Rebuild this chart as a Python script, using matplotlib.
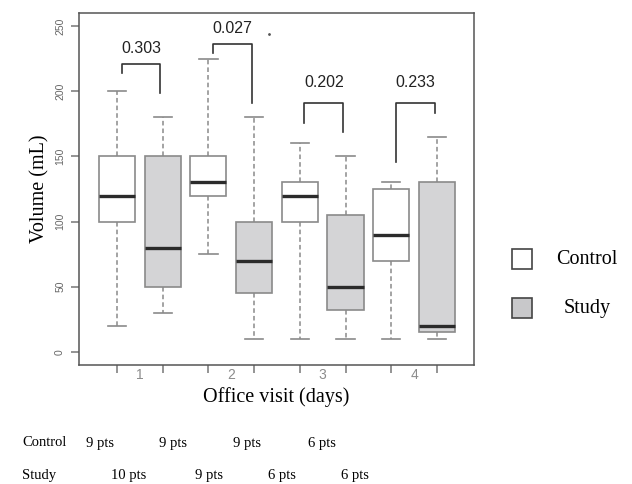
import numpy as np
import matplotlib.pyplot as plt
from matplotlib.patches import Rectangle

# box statistics (whislo, q1, med, q3, whishi)
visits = ['1', '2', '3', '4']
control_stats = [
    (20, 100, 120, 150, 200),
    (75, 120, 130, 150, 225),
    (10, 100, 120, 130, 160),
    (10, 70, 90, 125, 130),
]
study_stats = [
    (30, 50, 80, 150, 180),
    (10, 45, 70, 100, 180),
    (10, 32, 50, 105, 150),
    (10, 15, 20, 130, 165),
]
p_values = ['0.303', '0.027', '0.202', '0.233']
# bracket: (top, left leg bottom, right leg bottom)
brackets = [(221, 214, 199), (236, 229, 191), (191, 176, 169), (191, 146, 183)]
p_text_y = [233, 248, 207, 207]
groups = ['Control', 'Study']
control_pts = ['9 pts', '9 pts', '9 pts', '6 pts']
study_pts = ['10 pts', '9 pts', '6 pts', '6 pts']

serif = 'Liberation Serif'
sans = 'Liberation Sans'
edge = '#8a8a8a'
study_fill = '#d4d4d6'

fig = plt.figure(figsize=(6.32, 4.84), dpi=100)
ax = fig.add_axes([0.125, 0.246, 0.625, 0.727])

stats = []
positions = []
fills = []
for i in range(len(visits)):
    for j, s in enumerate((control_stats[i], study_stats[i])):
        lo, q1, med, q3, hi = s
        stats.append(dict(whislo=lo, q1=q1, med=med, q3=q3, whishi=hi, fliers=[]))
        positions.append(2 * i + j + 1)
        fills.append('white' if j == 0 else study_fill)

bp = ax.bxp(stats, positions=positions, widths=0.79, patch_artist=True,
            showfliers=False,
            boxprops=dict(edgecolor=edge, linewidth=1.2),
            medianprops=dict(color='#2b2b2b', linewidth=2.4),
            whiskerprops=dict(color=edge, linewidth=1.1, linestyle=(0, (3, 2))),
            capprops=dict(color=edge, linewidth=1.2),
            capwidths=0.4)
for patch, c in zip(bp['boxes'], fills):
    patch.set_facecolor(c)

# p-value brackets
for i, (top, lb, rb) in enumerate(brackets):
    xl = 2 * i + 1 + 0.1
    xr = 2 * i + 2 - 0.05
    ax.plot([xl, xl, xr, xr], [lb, top, top, rb], color='#333333', lw=1.2)
    ax.text((xl + xr) / 2, p_text_y[i], p_values[i], ha='center', va='center',
            fontsize=11.5, family=sans, color='#222222')
# small stray dot next to 0.027
ax.plot([4.33], [244], marker='.', markersize=2, color='#555555')

ax.set_xlim(0.17, 8.81)
ax.set_ylim(-10, 260)
ax.set_yticks([0, 50, 100, 150, 200, 250])
ax.set_xticks(positions)
ax.set_xticklabels([])
ax.set_xticks([1.5, 3.5, 5.5, 7.5], minor=True)
ax.set_xticklabels(visits, minor=True)
ax.tick_params(axis='x', which='minor', length=0, pad=2, labelsize=10,
               labelcolor='#8c8c8c')
ax.tick_params(axis='x', which='major', length=6, width=1.1, color='#777777')
ax.tick_params(axis='y', length=6, width=1.1, color='#777777', labelsize=7.5,
               labelcolor='#666666', labelrotation=90, pad=4)
for lab in ax.get_yticklabels():
    lab.set_verticalalignment('center')
    lab.set_family(sans)
for lab in ax.get_xticklabels(minor=True):
    lab.set_family(sans)
for sp in ax.spines.values():
    sp.set_color('#555555')
    sp.set_linewidth(1.1)

ax.set_ylabel('Volume (mL)', family=serif, fontsize=14.5, labelpad=4)
ax.set_xlabel('Office visit (days)', family=serif, fontsize=14.5, labelpad=4)

# legend squares
for k, (g, c) in enumerate(zip(groups, ['white', '#c8c8ca'])):
    yc = 259 + 49 * k
    fig.add_artist(Rectangle(((512) / 632, 1 - (yc + 10) / 484), 20 / 632, 20 / 484,
                             transform=fig.transFigure, facecolor=c,
                             edgecolor='#444444', lw=1.2))
    fig.text(587 / 632, 1 - yc / 484, g, ha='center', va='center',
             family=serif, fontsize=14.5)

# patient counts table
row_y = [443, 475]
col_x = [[86, 159, 233, 308], [111, 195, 268, 341]]
for r, (g, pts) in enumerate(zip(groups, [control_pts, study_pts])):
    fig.text(22 / 632, 1 - row_y[r] / 484, g, ha='left', va='center',
             family=serif, fontsize=10.5)
    for x, t in zip(col_x[r], pts):
        fig.text(x / 632, 1 - row_y[r] / 484, t, ha='left', va='center',
                 family=serif, fontsize=10.5)

fig.savefig('out.png', dpi=100)
